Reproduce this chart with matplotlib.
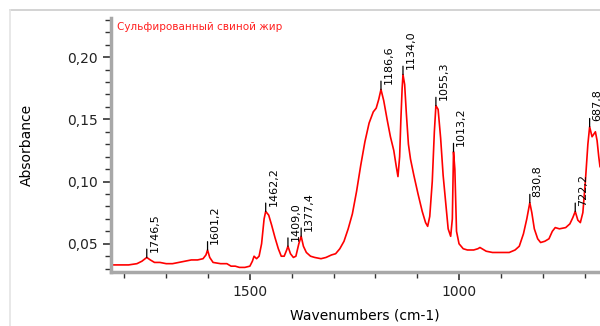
import matplotlib.pyplot as plt
from matplotlib.lines import Line2D
from matplotlib.ticker import MultipleLocator, FuncFormatter

# спектр: волновые числа и поглощение
wn = [1832, 1810, 1790, 1770, 1758, 1746.5, 1738, 1728, 1715, 1700, 1685, 1670,
      1655, 1640, 1625, 1612, 1605, 1601.2, 1596, 1588, 1570, 1555, 1545, 1535,
      1525, 1512, 1500, 1494, 1490, 1484, 1478, 1472, 1466, 1462.2, 1455, 1448,
      1440, 1432, 1425, 1418, 1412, 1409, 1403, 1396, 1390, 1383, 1377.4, 1372,
      1365, 1355, 1345, 1330, 1318, 1305, 1295, 1285, 1275, 1265, 1255, 1245,
      1235, 1225, 1215, 1205, 1198, 1192, 1186.6, 1180, 1172, 1164, 1156, 1150,
      1146, 1142, 1139, 1136, 1134, 1130, 1126, 1121, 1116, 1108, 1098, 1088,
      1080, 1075, 1070, 1064, 1059, 1055.3, 1050, 1044, 1038, 1031, 1026, 1020,
      1016, 1013.2, 1010, 1006, 1000, 990, 980, 965, 955, 950, 945, 935, 920,
      900, 880, 866, 856, 846, 838, 830.8, 826, 820, 812, 805, 795, 785, 777,
      770, 760, 745, 735, 728, 722.2, 716, 710, 704, 698, 692, 687.8, 682, 678,
      674, 670, 666, 663]
absb = [0.033, 0.033, 0.033, 0.034, 0.036, 0.039, 0.037, 0.035, 0.035, 0.034,
        0.034, 0.035, 0.036, 0.037, 0.037, 0.038, 0.041, 0.045, 0.039, 0.035,
        0.034, 0.034, 0.032, 0.032, 0.031, 0.031, 0.032, 0.036, 0.040, 0.038,
        0.040, 0.050, 0.070, 0.076, 0.073, 0.065, 0.055, 0.046, 0.040, 0.040,
        0.045, 0.048, 0.042, 0.039, 0.040, 0.050, 0.056, 0.048, 0.043, 0.040,
        0.039, 0.038, 0.039, 0.041, 0.042, 0.046, 0.052, 0.062, 0.074, 0.092,
        0.113, 0.132, 0.147, 0.156, 0.159, 0.166, 0.174, 0.165, 0.150, 0.136,
        0.125, 0.112, 0.104, 0.120, 0.150, 0.175, 0.186, 0.178, 0.155, 0.130,
        0.118, 0.105, 0.090, 0.076, 0.067, 0.064, 0.072, 0.100, 0.140, 0.161,
        0.158, 0.135, 0.105, 0.080, 0.062, 0.056, 0.070, 0.124, 0.110, 0.060,
        0.050, 0.046, 0.045, 0.045, 0.046, 0.047, 0.046, 0.044, 0.043, 0.043,
        0.043, 0.045, 0.048, 0.058, 0.070, 0.083, 0.075, 0.062, 0.054, 0.051,
        0.052, 0.054, 0.060, 0.063, 0.062, 0.063, 0.066, 0.071, 0.076, 0.069,
        0.067, 0.075, 0.100, 0.130, 0.144, 0.136, 0.138, 0.140, 0.133, 0.120,
        0.112]

# подписанные пики
peaks = [1746.5, 1601.2, 1462.2, 1409.0, 1377.4, 1186.6, 1134.0, 1055.3,
         1013.2, 830.8, 722.2, 687.8]
peak_labels = ['1746,5', '1601,2', '1462,2', '1409,0', '1377,4', '1186,6',
               '1134,0', '1055,3', '1013,2', '830,8', '722,2', '687,8']

fig = plt.figure(figsize=(6, 3.26), dpi=100)
ax = fig.add_axes([0.185, 0.166, 0.815, 0.779])

ax.plot(wn, absb, color='#ff0000', linewidth=1.2)

for p, lab in zip(peaks, peak_labels):
    y = absb[wn.index(p)]
    ax.annotate('', xy=(p, y), xytext=(0, 6), textcoords='offset points',
                arrowprops=dict(arrowstyle='-', color='black', lw=0.9,
                                shrinkA=0, shrinkB=0))
    ax.annotate(lab, xy=(p, y), xytext=(2, 4), textcoords='offset points',
                rotation=90, ha='left', va='bottom', fontsize=8,
                annotation_clip=False)

ax.set_xlim(1832, 663)
ax.set_ylim(0.0274, 0.2315)

ax.xaxis.set_major_locator(MultipleLocator(500))
ax.xaxis.set_minor_locator(MultipleLocator(100))
ax.yaxis.set_major_locator(MultipleLocator(0.05))
ax.yaxis.set_minor_locator(MultipleLocator(0.01))
ax.yaxis.set_major_formatter(FuncFormatter(lambda v, pos: f'{v:.2f}'.replace('.', ',')))

for s in ['top', 'right']:
    ax.spines[s].set_visible(False)
for s in ['left', 'bottom']:
    ax.spines[s].set_color('#a8a8a8')
    ax.spines[s].set_linewidth(2.5)

ax.tick_params(which='major', direction='out', length=6, width=1.2,
               color='#333333', labelsize=10, labelcolor='#222222')
ax.tick_params(which='minor', direction='out', length=4, width=1.0,
               color='#333333')

ax.set_xlabel('Wavenumbers (cm-1)', fontsize=10, labelpad=7)
ax.xaxis.label.set_x(0.52)
ax.set_ylabel('Absorbance', fontsize=10, labelpad=24)

ax.text(0.012, 0.985, 'Сульфированный свиной жир', transform=ax.transAxes,
        color='#ff2020', fontsize=7.5, ha='left', va='top')

# рамка окна
fig.add_artist(Line2D([0.017, 1.0], [0.968, 0.968], color='#cccccc', lw=1.2))
fig.add_artist(Line2D([0.017, 0.017], [0.0, 0.968], color='#e4e4e4', lw=1.2))

fig.savefig('out.png', dpi=100)
